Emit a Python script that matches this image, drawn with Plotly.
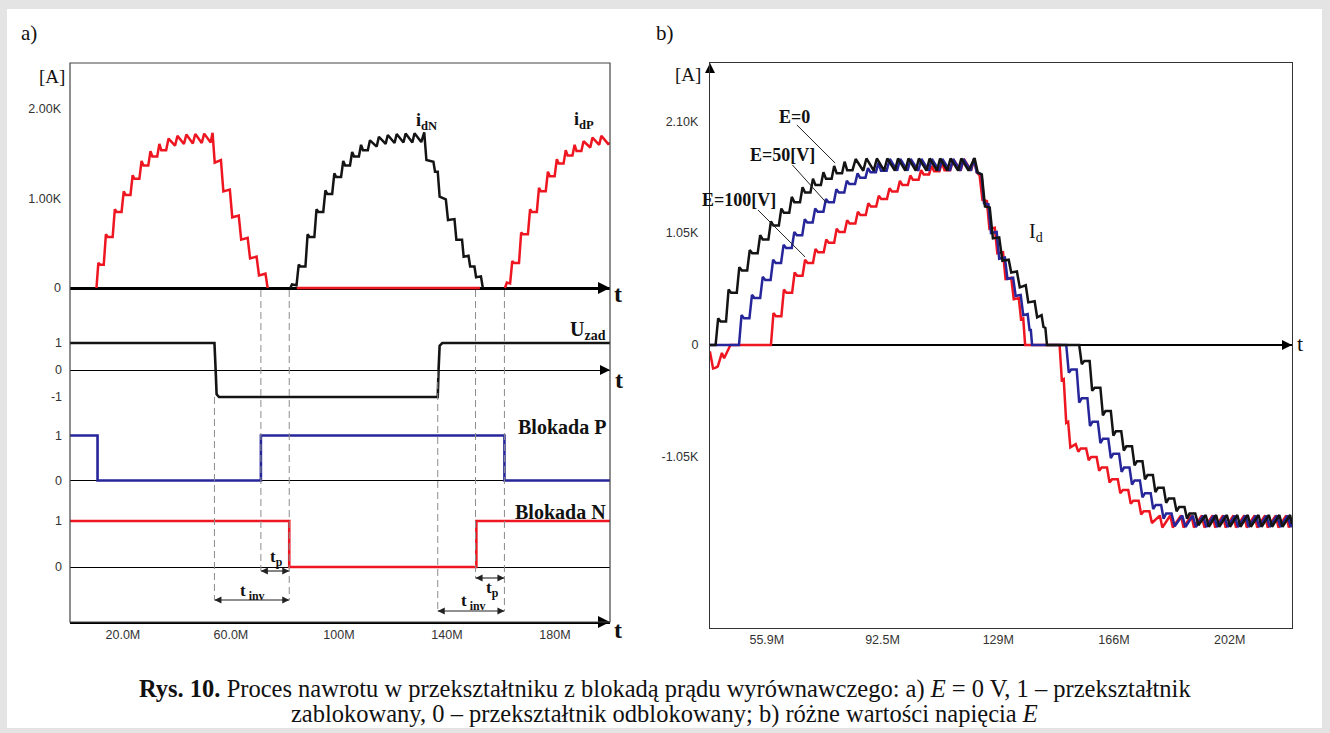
import plotly.graph_objects as go

W, H = 1330, 733
def px(x): return x / W
def py(y): return 1 - y / H

SERIF = "Liberation Serif"
SANS = "Liberation Sans"
RED, BLUE, BLACK = "#ee1620", "#26269a", "#141414"

# ---------------- panel a data: (t [ms, "M"], current [A]) ----------------
a_tick_t = [20, 60, 100, 140, 180]
a_tick_txt = ["20.0M", "60.0M", "100M", "140M", "180M"]
a_i_tick = [0, 1000, 2000]
a_i_txt = ["0", "1.00K", "2.00K"]

idP1 = [(10.2, 0), (10.9, 280), (11.6, 260), (12.9, 260), (13.7, 600), (14.4, 570), (16.2, 570),
        (17.0, 880), (17.7, 850), (19.5, 850), (20.3, 1080), (21.0, 1040), (22.8, 1040),
        (23.6, 1260), (24.3, 1220), (26.1, 1220), (26.9, 1420), (27.6, 1370), (29.4, 1370),
        (30.2, 1530), (30.9, 1470), (32.7, 1470), (33.5, 1610), (34.2, 1540), (36.0, 1540),
        (36.9, 1670), (39.3, 1590), (40.2, 1700), (42.6, 1610), (43.5, 1715), (45.9, 1615),
        (46.8, 1720), (49.2, 1620), (50.1, 1725), (52.5, 1625), (53.2, 1735),
        (54.0, 1400), (56.3, 1430), (57.2, 1080), (59.6, 1100), (60.5, 790), (62.9, 810),
        (63.8, 540), (66.2, 560), (67.1, 330), (69.5, 350), (70.4, 140), (72.8, 160), (73.6, 0)]
idP_zero = [(84.4, 0), (152.2, 0)]
idN = [(82.0, 0), (82.6, 40), (84.3, 30), (85.1, 260), (85.8, 240), (87.6, 240), (88.4, 600),
       (89.1, 570), (90.9, 570), (91.7, 880), (92.4, 850), (94.2, 850), (95.0, 1090),
       (95.7, 1050), (97.5, 1050), (98.3, 1280), (99.0, 1240), (100.8, 1240), (101.6, 1420),
       (102.3, 1370), (104.1, 1370), (104.9, 1520), (105.6, 1470), (107.4, 1470), (108.2, 1600),
       (108.9, 1540), (110.7, 1540), (111.5, 1650), (114.0, 1580), (114.8, 1690), (117.3, 1610),
       (118.1, 1710), (120.6, 1620), (121.4, 1720), (123.9, 1625), (124.7, 1725), (127.2, 1625),
       (128.0, 1730), (130.5, 1630), (131.6, 1740),
       (132.4, 1430), (135.0, 1410), (135.6, 1300), (136.6, 1300), (137.3, 1020), (139.6, 990),
       (140.4, 760), (142.8, 770), (143.5, 540), (145.6, 540), (146.2, 350), (148.0, 360),
       (148.6, 240), (150.2, 240), (150.8, 120), (152.6, 130), (153.3, 0)]
idP2 = [(161.5, 0), (162.2, 60), (163.4, 50), (164.2, 300), (164.9, 280), (166.7, 280),
        (167.5, 620), (168.2, 600), (170.0, 600), (170.8, 880), (171.5, 850), (173.3, 850),
        (174.1, 1120), (174.8, 1080), (176.6, 1080), (177.4, 1300), (178.1, 1250), (179.9, 1250),
        (180.7, 1440), (181.4, 1390), (183.2, 1390), (184.0, 1540), (184.7, 1480), (186.5, 1480),
        (187.3, 1600), (188.0, 1530), (189.8, 1530), (190.6, 1640), (193.1, 1570), (193.9, 1680),
        (196.4, 1600), (197.2, 1700), (199.7, 1610), (200.4, 1620)]
uzad = [(0.4, 1), (53.9, 1), (54.3, 0.1), (54.7, -0.9), (55.6, -1), (136.6, -1), (136.9, 0.0),
        (137.3, 0.9), (138.3, 1), (200.4, 1)]
blokP = [(0.4, 1), (10.6, 0), (71.1, 1), (161.3, 0), (200.4, 0)]
blokN = [(0.4, 1), (81.6, 0), (150.9, 1), (200.4, 1)]
event_t = [53.9, 71.1, 81.6, 136.6, 150.6, 161.3]

# ---------------- panel b data ----------------
b_tick_t = [55.9, 92.5, 129.1, 165.7, 202.3]
b_tick_txt = ["55.9M", "92.5M", "129M", "166M", "202M"]
b_i_tick = [-1050, 0, 1050, 2100]
b_i_txt = ["-1.05K", "0", "1.05K", "2.10K"]

E0 = [(37.9, 0), (39.7, 0), (40.5, 250), (41.3, 220), (43.0, 220), (43.8, 520), (44.6, 490),
      (46.4, 490), (47.2, 730), (48.0, 700), (49.7, 700), (50.5, 890), (51.3, 860), (53.0, 860),
      (53.8, 1030), (54.6, 990), (56.4, 990), (57.2, 1160), (58.0, 1120), (59.7, 1120),
      (60.5, 1280), (61.3, 1240), (63.0, 1240), (63.8, 1390), (64.6, 1340), (66.4, 1340),
      (67.2, 1480), (68.0, 1430), (69.7, 1430), (70.5, 1560), (71.3, 1500), (73.0, 1500),
      (73.8, 1620), (74.6, 1560), (76.4, 1560), (77.2, 1680), (78.0, 1610), (79.7, 1610),
      (80.5, 1720), (81.3, 1640), (83.0, 1640), (84.0, 1745),
      (86.4, 1635), (87.4, 1750), (89.7, 1635), (90.7, 1750), (93.0, 1635), (94.0, 1750),
      (96.4, 1635), (97.4, 1750), (99.7, 1635), (100.7, 1750), (103.0, 1635), (104.0, 1750),
      (106.4, 1635), (107.4, 1750), (109.7, 1635), (110.7, 1750), (113.0, 1635), (114.0, 1750),
      (116.4, 1635), (117.4, 1750), (119.7, 1635), (121.6, 1755),
      (122.6, 1620), (123.9, 1600), (124.9, 1300), (126.4, 1290), (127.4, 1000), (129.4, 1010),
      (130.4, 790), (132.4, 800), (133.2, 680), (135.0, 690), (135.9, 540), (137.8, 560),
      (138.6, 400), (140.6, 410), (141.4, 260), (142.8, 280), (143.4, 170), (144.0, 160),
      (144.5, 0), (154.7, 0),
      (155.5, -180), (156.3, -150), (158.0, -150), (158.8, -430), (159.6, -400), (161.4, -400),
      (162.2, -660), (163.0, -620), (164.7, -620), (165.5, -850), (166.3, -810), (168.0, -810),
      (168.8, -990), (169.6, -950), (171.4, -950), (172.2, -1130), (173.0, -1090), (174.7, -1090),
      (175.5, -1260), (176.3, -1220), (178.0, -1220), (178.8, -1380), (179.6, -1340),
      (181.4, -1340), (182.2, -1480), (183.0, -1440), (184.7, -1440), (185.5, -1560),
      (186.3, -1520), (188.0, -1520), (188.8, -1630), (189.6, -1580), (191.4, -1580),
      (192.4, -1690), (194.7, -1595), (195.7, -1705), (198.0, -1595), (199.0, -1705),
      (201.4, -1595), (202.4, -1705), (204.7, -1595), (205.7, -1705), (208.0, -1595),
      (209.0, -1705), (211.4, -1595), (212.4, -1705), (214.7, -1595), (215.7, -1705),
      (218.0, -1595), (219.0, -1705), (221.4, -1595), (222.0, -1680)]
E50 = [(37.9, 0), (47.1, 0), (47.9, 280), (48.7, 250), (50.4, 250), (51.2, 470), (52.0, 440),
       (53.8, 440), (54.6, 640), (55.4, 610), (57.1, 610), (57.9, 800), (58.7, 770), (60.4, 770),
       (61.2, 940), (62.0, 910), (63.8, 910), (64.6, 1060), (65.4, 1030), (67.1, 1030),
       (67.9, 1180), (68.7, 1150), (70.4, 1150), (71.2, 1280), (72.0, 1250), (73.8, 1250),
       (74.6, 1370), (75.4, 1340), (77.1, 1340), (77.9, 1460), (78.7, 1430), (80.4, 1430),
       (81.2, 1540), (82.0, 1510), (83.8, 1510), (84.6, 1610), (85.4, 1570), (87.1, 1570),
       (87.9, 1660), (88.7, 1620), (90.4, 1620), (91.2, 1710), (92.0, 1635), (93.8, 1635),
       (94.8, 1745), (97.1, 1635), (98.1, 1745), (100.4, 1635), (101.4, 1745), (103.8, 1635),
       (104.8, 1745), (107.1, 1635), (108.1, 1745), (110.4, 1635), (111.4, 1745), (113.8, 1635),
       (114.8, 1745), (117.1, 1635), (118.1, 1745), (120.4, 1635), (121.4, 1750),
       (122.3, 1620), (123.8, 1600), (124.6, 1330), (126.0, 1320), (126.8, 1050), (128.6, 1060),
       (129.4, 810), (131.2, 820), (132.0, 620), (133.8, 630), (134.6, 460), (136.2, 470),
       (137.0, 280), (138.4, 290), (139.0, 140), (139.4, 140), (139.8, 0), (150.6, 0),
       (151.4, -260), (152.2, -230), (153.9, -230), (154.7, -540), (155.5, -500), (157.3, -500),
       (158.1, -760), (158.9, -720), (160.6, -720), (161.4, -920), (162.2, -880), (163.9, -880),
       (164.7, -1060), (165.5, -1020), (167.3, -1020), (168.1, -1190), (168.9, -1150),
       (170.6, -1150), (171.4, -1310), (172.2, -1270), (173.9, -1270), (174.7, -1430),
       (175.5, -1390), (177.3, -1390), (178.1, -1540), (178.9, -1500), (180.6, -1500),
       (181.4, -1630), (182.2, -1580), (183.9, -1580), (184.9, -1700), (187.3, -1600),
       (188.3, -1707), (190.6, -1600), (191.6, -1707), (193.9, -1600), (194.9, -1707),
       (197.3, -1600), (198.3, -1707), (200.6, -1600), (201.6, -1707), (203.9, -1600),
       (204.9, -1707), (207.3, -1600), (208.3, -1707), (210.6, -1600), (211.6, -1707),
       (213.9, -1600), (214.9, -1707), (217.3, -1600), (218.3, -1707), (220.6, -1600),
       (221.6, -1707), (222.0, -1680)]
E100 = [(37.9, -60), (38.2, -113), (38.9, -220), (39.6, -215), (40.4, -200), (41.7, -75),
        (42.4, -125), (43.6, -50), (44.4, 0), (57.2, 0), (58.0, 300), (58.8, 270), (60.5, 270),
        (61.3, 520), (62.1, 490), (63.9, 490), (64.7, 680), (65.5, 650), (67.2, 650), (68.0, 800),
        (68.8, 770), (70.5, 770), (71.3, 900), (72.1, 870), (73.9, 870), (74.7, 990), (75.5, 960),
        (77.2, 960), (78.0, 1090), (78.8, 1060), (80.5, 1060), (81.3, 1170), (82.1, 1140),
        (83.9, 1140), (84.7, 1250), (85.5, 1220), (87.2, 1220), (88.0, 1330), (88.8, 1300),
        (90.5, 1300), (91.3, 1400), (92.1, 1370), (93.9, 1370), (94.7, 1470), (95.5, 1440),
        (97.2, 1440), (98.0, 1540), (98.8, 1500), (100.5, 1500), (101.3, 1590), (102.1, 1550),
        (103.9, 1550), (104.7, 1640), (105.5, 1600), (107.2, 1600), (108.0, 1680), (108.8, 1630),
        (110.5, 1630), (111.3, 1710), (112.1, 1640), (113.9, 1640), (114.9, 1740), (117.2, 1635),
        (118.2, 1745), (120.5, 1635), (121.5, 1750),
        (122.3, 1620), (123.2, 1590), (124.1, 1360), (125.5, 1350), (126.3, 1090), (128.0, 1100),
        (128.8, 860), (130.6, 870), (131.4, 620), (133.2, 630), (134.0, 430), (135.6, 440),
        (136.3, 240), (137.0, 250), (137.6, 0), (148.5, 0),
        (149.2, -330), (149.8, -320), (150.6, -730), (151.2, -720), (151.9, -960), (153.6, -930),
        (154.4, -1000), (155.2, -970), (156.9, -970), (157.7, -1080), (158.5, -1050),
        (160.2, -1050), (161.0, -1180), (161.8, -1150), (163.5, -1150), (164.3, -1290),
        (165.1, -1260), (166.9, -1260), (167.7, -1390), (168.5, -1360), (170.2, -1360),
        (171.0, -1490), (171.8, -1460), (173.5, -1460), (174.3, -1590), (175.1, -1560),
        (176.9, -1560), (177.7, -1670), (180.2, -1600), (181.0, -1712), (183.5, -1600),
        (184.3, -1712), (186.9, -1600), (187.7, -1712), (190.2, -1600), (191.0, -1712),
        (193.5, -1600), (194.3, -1712), (196.9, -1600), (197.7, -1712), (200.2, -1600),
        (201.0, -1712), (203.5, -1600), (204.3, -1712), (206.9, -1600), (207.7, -1712),
        (210.2, -1600), (211.0, -1712), (213.5, -1600), (214.3, -1712), (216.9, -1600),
        (217.7, -1712), (220.2, -1600), (221.0, -1712), (222.0, -1650)]

# time spans (t_p, t_inv) in panel a: (start, end, level on Blokada N axis)
spans = [(event_t[1], event_t[2], -0.087), (event_t[0], event_t[2], -0.717),
         (event_t[4], event_t[5], -0.239), (event_t[3], event_t[5], -0.957)]

# ---------------- figure ----------------
fig = go.Figure()

def line_tr(pts, xa, ya, color, width=2.5, shape="linear"):
    xs = [p[0] for p in pts]
    ys = [p[1] for p in pts]
    fig.add_trace(go.Scatter(x=xs, y=ys, xaxis=xa, yaxis=ya, mode="lines",
                             line=dict(color=color, width=width, shape=shape),
                             hoverinfo="skip", showlegend=False))

def head(x, y, xa, ya, symbol, size=11, color="black"):
    fig.add_trace(go.Scatter(x=[x], y=[y], xaxis=xa, yaxis=ya, mode="markers",
                             marker=dict(symbol=symbol, size=size, color=color,
                                         line=dict(width=0)),
                             cliponaxis=False, hoverinfo="skip", showlegend=False))

# panel a
line_tr(idP_zero, "x", "y", RED, 2.6)
line_tr(idP1, "x", "y", RED)
line_tr(idP2, "x", "y", RED)
line_tr(idN, "x", "y", BLACK)
line_tr(uzad, "x", "y2", BLACK, 2.6)
line_tr(blokP, "x", "y3", BLUE, 2.6, "hv")
line_tr(blokN, "x", "y4", RED, 2.6, "hv")
for t0, t1, lv in spans:
    fig.add_trace(go.Scatter(x=[t0, t1], y=[lv, lv], xaxis="x", yaxis="y4",
                             mode="lines+markers", line=dict(color="#222", width=1.1),
                             marker=dict(symbol=["arrow-left", "arrow-right"], size=7,
                                         color="#222", line=dict(width=0)),
                             cliponaxis=False, hoverinfo="skip", showlegend=False))
head(200.4, 0, "x", "y", "arrow-right", 12)
head(200.4, 0, "x", "y2", "arrow-right", 10)
head(200.4, -1.1957, "x", "y4", "arrow-right", 12)
# panel b
line_tr(E100, "x2", "y5", RED)
line_tr(E50, "x2", "y5", BLUE)
line_tr(E0, "x2", "y5", BLACK)
head(222.0, 0, "x2", "y5", "arrow-right", 10)
head(37.93, 2645.4, "x2", "y5", "arrow-up", 10)

tickfont = dict(family=SANS, size=12.5, color="#333")
noax = dict(showgrid=False, ticks="", tickfont=tickfont, fixedrange=True)

fig.update_layout(
    width=W, height=H, margin=dict(l=0, r=0, t=0, b=0),
    paper_bgcolor="#e4e4e4", plot_bgcolor="rgba(0,0,0,0)",
    xaxis=dict(domain=[px(70), px(610)], range=[0.4, 200.4], anchor="y4",
               tickvals=a_tick_t, ticktext=a_tick_txt, showline=True, linecolor="black",
               linewidth=2, zeroline=False, **noax),
    yaxis=dict(domain=[py(300), py(63)], range=[-134.1, 2514.0], anchor="x",
               tickvals=a_i_tick, ticktext=a_i_txt, zeroline=True, zerolinecolor="black",
               zerolinewidth=2.5, showline=False, ticklabelstandoff=8, **noax),
    yaxis2=dict(domain=[py(410), py(318)], range=[-1.4815, 1.9259], anchor="x",
                tickvals=[-1, 0, 1], ticktext=["-1", "0", "1"], zeroline=True,
                zerolinecolor="black", zerolinewidth=1, showline=False, ticklabelstandoff=7, **noax),
    yaxis3=dict(domain=[py(497), py(412)], range=[-0.3667, 1.5222], anchor="x",
                tickvals=[0, 1], ticktext=["0", "1"], zeroline=True,
                zerolinecolor="black", zerolinewidth=1, showline=False, ticklabelstandoff=7, **noax),
    yaxis4=dict(domain=[py(622), py(500)], range=[-1.1957, 1.4565], anchor="x",
                tickvals=[0, 1], ticktext=["0", "1"], zeroline=True,
                zerolinecolor="black", zerolinewidth=1, showline=False, ticklabelstandoff=7, **noax),
    xaxis2=dict(domain=[px(710), px(1292)], range=[37.93, 222.0], anchor="y5",
                tickvals=b_tick_t, ticktext=b_tick_txt, showline=True, mirror=True,
                linecolor="#333", linewidth=1.3, zeroline=False, **noax),
    yaxis5=dict(domain=[py(628), py(63)], range=[-2654.8, 2645.4], anchor="x2",
                tickvals=b_i_tick, ticktext=b_i_txt, showline=True, mirror=True,
                linecolor="#333", linewidth=1.3, zeroline=True, zerolinecolor="black",
                zerolinewidth=1.5, ticklabelstandoff=8, **noax),
)

shapes = [
    dict(type="rect", xref="paper", yref="paper", x0=px(7), x1=px(1322), y0=py(728), y1=py(9),
         fillcolor="white", line=dict(width=0), layer="below"),
    dict(type="rect", xref="paper", yref="paper", x0=px(70), x1=px(610), y0=py(622), y1=py(63),
         line=dict(color="#444", width=1.2)),
]
# dashed guide lines (pixel extents)
dash_ext = [(397, 600), (290, 571), (290, 600), (371, 611), (290, 578), (290, 611)]
for t, (y0, y1) in zip(event_t, dash_ext):
    shapes.append(dict(type="line", xref="x", yref="paper", x0=t, x1=t, y0=py(y0), y1=py(y1),
                       line=dict(color="#8c8c8c", width=1, dash="7px,4px")))
# leader lines for E labels (panel b)
leaders = [((65.4, 2064), (77.5, 1707)), ((64.0, 1689), (74.8, 1332)), ((53.1, 1266), (68.0, 826))]
for (x0, y0), (x1, y1) in leaders:
    shapes.append(dict(type="line", xref="x2", yref="y5", x0=x0, y0=y0, x1=x1, y1=y1,
                       line=dict(color="#222", width=1)))
fig.update_layout(shapes=shapes)

ann = []
def text(x, y, s, size=18, bold=False, xref="paper", yref="paper", xanchor="center", family=SERIF, color="#111"):
    ann.append(dict(x=x, y=y, xref=xref, yref=yref, text=f"<b>{s}</b>" if bold else s,
                    showarrow=False, xanchor=xanchor, yanchor="middle",
                    font=dict(family=family, size=size, color=color)))

# panel a titles/labels
text(px(29), py(33), "a)", 21)
text(px(665), py(33), "b)", 21)
text(px(52), py(76), "[A]", 19)
text(132.6, 1855, "i<sub>dN</sub>", 18, True, "x", "y")
text(190.7, 1877, "i<sub>dP</sub>", 18, True, "x", "y")
text(199.7, 1.48, "U<sub>zad</sub>", 20, True, "x", "y2", "right")
text(199.7, 1.19, "Blokada P", 20, True, "x", "y3", "right")
text(199.7, 1.196, "Blokada N", 20, True, "x", "y4", "right")
text(76.7, 0.19, "t<sub>p</sub>", 17, True, "x", "y4")
text(68.1, -0.54, "t<sub> inv</sub>", 17, True, "x", "y4")
text(157.0, -0.47, "t<sub>p</sub>", 17, True, "x", "y4")
text(150.0, -0.77, "t<sub> inv</sub>", 17, True, "x", "y4")
text(px(618), py(294), "t", 24, True)
text(px(619), py(380), "t", 24, True)
text(px(618), py(630), "t", 24, True)

# panel b labels
text(px(688), py(74), "[A]", 19)
text(64.5, 2139, "E=0", 18, True, "x2", "y5")
text(60.7, 1782, "E=50[V]", 18, True, "x2", "y5")
text(47.1, 1360, "E=100[V]", 18, True, "x2", "y5")
text(141.1, 1060, "I<sub>d</sub>", 20, False, "x2", "y5")
text(px(1300), py(344), "t", 22)

# caption
text(px(665), py(689), "<b>Rys. 10.</b> Proces nawrotu w przekształtniku z blokadą prądu wyrównawczego: a) <i>E</i> = 0 V, 1 – przekształtnik", 24.5)
text(px(664), py(714), "zablokowany, 0 – przekształtnik odblokowany; b) różne wartości napięcia <i>E</i>", 24.5)

fig.update_layout(annotations=ann)
fig.write_html("out.html", config={"displayModeBar": False},
               post_script="document.body.style.margin='0';document.body.style.overflow='hidden';")
